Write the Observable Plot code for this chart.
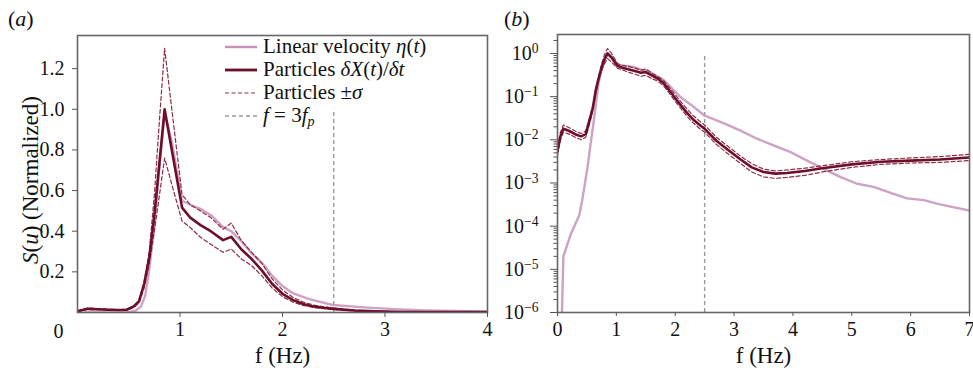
<!DOCTYPE html>
<html>
<head>
<meta charset="utf-8">
<script src="https://cdn.jsdelivr.net/npm/d3@7"></script>
<script src="https://cdn.jsdelivr.net/npm/@observablehq/plot@0.6"></script>
<style>
  html, body { margin: 0; padding: 0; background: #fff; font-family: 'Liberation Serif', serif; }
  #root { position: relative; width: 973px; height: 376px; overflow: hidden; font-family: 'Liberation Serif', serif; }
  .panel { position: absolute; top: 0; }
  .panel svg { overflow: visible; }
  .plab { position: absolute; top: 6px; font-size: 22px; line-height: 26px; color: #111; font-family: 'Liberation Serif', serif; }
  #legend { position: absolute; left: 222px; top: 35px; font-size: 21px; color: #111; font-family: 'Liberation Serif', serif; }
  #legend .row { height: 23px; line-height: 23px; display: flex; align-items: center; white-space: nowrap; }
  #legend svg { margin-right: 6px; }
  #legend sub { font-size: 14px; vertical-align: -4px; line-height: 0; }
</style>
</head>
<body>
<div id="root">
  <div class="plab" style="left:8px">(<i>a</i>)</div>
  <div class="plab" style="left:504px">(<i>b</i>)</div>
  <div id="left" class="panel" style="left:0px"></div>
  <div id="right" class="panel" style="left:490px"></div>
  <div id="legend"></div>
</div>
<script>
// ---------- data ----------
// particle spectra (mean, +sigma, -sigma), normalized
const fParticles = [0, 0.05, 0.1, 0.2, 0.3, 0.4, 0.48, 0.55, 0.6, 0.65, 0.7, 0.75, 0.8, 0.85, 0.92, 1.02, 1.1, 1.2, 1.3, 1.42, 1.5, 1.6, 1.7, 1.8, 1.9, 2.0, 2.1, 2.2, 2.3, 2.4, 2.5, 2.7, 2.9, 3.1, 3.3, 3.5, 3.7, 3.9, 4.2, 4.5, 5.0, 5.5, 6.0, 6.5, 7.0];
const particlesMean = [0.0056, 0.012, 0.018, 0.016, 0.0135, 0.012, 0.0135, 0.03, 0.055, 0.14, 0.27, 0.48, 0.74, 1.0, 0.80, 0.516, 0.467, 0.43, 0.40, 0.356, 0.372, 0.31, 0.263, 0.206, 0.14, 0.092, 0.062, 0.042, 0.03, 0.023, 0.018, 0.0095, 0.0058, 0.0036, 0.0023, 0.0018, 0.00165, 0.0017, 0.0019, 0.0022, 0.0027, 0.0031, 0.0033, 0.0035, 0.0039];
const particlesHi = [0.007, 0.015, 0.022, 0.019, 0.016, 0.014, 0.016, 0.035, 0.06, 0.15, 0.30, 0.58, 0.95, 1.30, 1.0, 0.58, 0.53, 0.50, 0.467, 0.41, 0.44, 0.353, 0.296, 0.24, 0.165, 0.111, 0.075, 0.052, 0.037, 0.028, 0.022, 0.0115, 0.007, 0.0043, 0.0028, 0.0021, 0.0019, 0.002, 0.0022, 0.0025, 0.0031, 0.0035, 0.0038, 0.0041, 0.0046];
const particlesLo = [0.0045, 0.010, 0.015, 0.0135, 0.0115, 0.010, 0.0115, 0.025, 0.048, 0.12, 0.24, 0.40, 0.58, 0.76, 0.63, 0.45, 0.418, 0.37, 0.336, 0.296, 0.312, 0.263, 0.23, 0.18, 0.12, 0.078, 0.052, 0.035, 0.025, 0.019, 0.015, 0.0078, 0.0047, 0.0029, 0.0018, 0.00138, 0.00128, 0.00135, 0.0015, 0.0018, 0.0023, 0.0027, 0.0029, 0.003, 0.0033];
// linear velocity spectrum
const fLinear = [0.07, 0.1, 0.23, 0.37, 0.42, 0.51, 0.57, 0.62, 0.66, 0.7, 0.75, 0.8, 0.85, 0.92, 1.02, 1.1, 1.2, 1.3, 1.42, 1.5, 1.6, 1.7, 1.8, 1.9, 2.0, 2.1, 2.26, 2.49, 2.83, 3.1, 3.39, 3.67, 3.96, 4.24, 4.53, 4.81, 5.09, 5.37, 5.66, 5.94, 6.22, 6.5, 7.0];
const linearVelocity = [5e-7, 2e-5, 6.8e-5, 1.8e-4, 4e-4, 2.3e-3, 9.7e-3, 0.03, 0.082, 0.21, 0.43, 0.72, 0.98, 0.84, 0.55, 0.53, 0.51, 0.48, 0.42, 0.40, 0.35, 0.29, 0.245, 0.18, 0.13, 0.095, 0.066, 0.037, 0.024, 0.0165, 0.0106, 0.0074, 0.0052, 0.0033, 0.0021, 0.00137, 0.00096, 0.00081, 0.00059, 0.00044, 0.0004, 0.00032, 0.00023];
const fCut = 2.5; // f = 3 f_p
// ticks
const xTicksLeft = [1, 2, 3, 4];
const yTicksLeft = [0.2, 0.4, 0.6, 0.8, 1.0, 1.2];
const xTicksRight = [0, 1, 2, 3, 4, 5, 6, 7];
const yTicksRight = [1e-6, 1e-5, 1e-4, 1e-3, 1e-2, 1e-1, 1];
const legendLabels = [
  "Linear velocity <i>η</i>(<i>t</i>)",
  "Particles <i>δX</i>(<i>t</i>)/<i>δt</i>",
  "Particles ±<i>σ</i>",
  "<i>f</i> = 3<i>f<sub>p</sub></i>"
];

// ---------- styles ----------
const PINK = "#c690bb", MAROON = "#6d0f2b", DASH = "#8e2c42", GRAY = "#9a9a9a", AX = "#555";
const FONT = "'Liberation Serif', serif";

const particles = fParticles.map((f, i) => ({f, mean: particlesMean[i], hi: particlesHi[i], lo: particlesLo[i]}));
const linear = fLinear.map((f, i) => ({f, v: linearVelocity[i]}));

function seriesMarks(y1Rule) {
  return [
    Plot.ruleX([fCut], {y1: y1Rule, y2: 1, stroke: GRAY, strokeWidth: 1.4, strokeDasharray: "4,3"}),
    Plot.line(linear, {x: "f", y: "v", stroke: PINK, strokeWidth: 2.4, strokeOpacity: 0.85, clip: true}),
    Plot.line(particles, {x: "f", y: "hi", stroke: DASH, strokeWidth: 1.2, strokeDasharray: "4,2.5", clip: true}),
    Plot.line(particles, {x: "f", y: "lo", stroke: DASH, strokeWidth: 1.2, strokeDasharray: "4,2.5", clip: true}),
    Plot.line(particles, {x: "f", y: "mean", stroke: MAROON, strokeWidth: 2.6, clip: true})
  ];
}

const leftPlot = Plot.plot({
  width: 490, height: 376,
  marginLeft: 77, marginRight: 3, marginTop: 35, marginBottom: 64,
  style: {fontFamily: FONT, fontSize: "20px", background: "transparent", color: "#111", overflow: "visible"},
  x: {domain: [0, 4]},
  y: {domain: [0, 1.363]},
  marks: [
    ...seriesMarks(0),
    Plot.frame({stroke: "#666", strokeWidth: 1.6}),
    Plot.axisX({ticks: xTicksLeft, tickSize: 5, tickPadding: 4, stroke: AX, label: null, tickFormat: d => String(d)}),
    Plot.axisY({ticks: yTicksLeft, tickSize: 5, tickPadding: 8, stroke: AX, label: null, tickFormat: d => d.toFixed(1)}),
    Plot.text([0], {x: 0, y: 0, text: d => String(d), dx: -19, dy: 19}),
    Plot.text(["f (Hz)"], {frameAnchor: "bottom", dy: 43, lineAnchor: "middle", textAnchor: "middle", text: d => d, fontSize: 23}),
    Plot.text(["S(u) (Normalized)"], {frameAnchor: "left", dx: -47, dy: 6, rotate: -90, lineAnchor: "middle", textAnchor: "middle", text: d => d, fontSize: 23})
  ]
});

const minorTicks = [];
for (let e = -6; e <= 0; e++) for (let k = 2; k <= 9; k++) { const v = k * Math.pow(10, e); if (v < 2.75) minorTicks.push(v); }

const rightPlot = Plot.plot({
  width: 483, height: 376,
  marginLeft: 67, marginRight: 4, marginTop: 34, marginBottom: 64,
  style: {fontFamily: FONT, fontSize: "20px", background: "transparent", color: "#111", overflow: "visible"},
  x: {domain: [0, 7]},
  y: {type: "log", domain: [1e-6, 2.75]},
  marks: [
    ...seriesMarks(1e-6),
    Plot.frame({stroke: "#666", strokeWidth: 1.6}),
    Plot.axisX({ticks: xTicksRight, tickSize: 4, tickPadding: 5, stroke: AX, label: null, tickFormat: d => String(d)}),
    Plot.axisY({ticks: minorTicks, tickSize: 3.5, stroke: AX, label: null, tickFormat: () => ""}),
    Plot.axisY({ticks: yTicksRight, tickSize: 7, tickPadding: 12, stroke: AX, label: null, tickFormat: d => "10^" + Math.round(Math.log10(d))}),
    Plot.text(["f (Hz)"], {frameAnchor: "bottom", dy: 43, lineAnchor: "middle", textAnchor: "middle", text: d => d, fontSize: 23})
  ]
});

function fixTexts(svg) {
  svg.style.fontFamily = FONT;
  svg.setAttribute("font-family", FONT);
  svg.querySelectorAll("text").forEach(t => {
    t.style.fontFamily = FONT;
    const s = t.textContent;
    const m = s.match(/^10\^(-?\d+)$/);
    if (m) {
      const exp = m[1].replace("-", "\u2212");
      t.innerHTML = `10<tspan dy="-0.5em" font-size="0.68em">${exp}</tspan>`;
    } else if (s === "S(u) (Normalized)") {
      t.innerHTML = `<tspan font-style="italic">S</tspan>(<tspan font-style="italic">u</tspan>) (Normalized)`;
    }
  });
}
fixTexts(leftPlot);
fixTexts(rightPlot);
document.getElementById("left").appendChild(leftPlot);
document.getElementById("right").appendChild(rightPlot);

// ---------- legend ----------
const legendStyles = [
  {stroke: PINK, width: 2.4, dash: null},
  {stroke: MAROON, width: 2.8, dash: null},
  {stroke: DASH, width: 1.2, dash: "4,2.5"},
  {stroke: GRAY, width: 1.4, dash: "4,3"}
];
const leg = d3.select("#legend");
legendLabels.forEach((lab, i) => {
  const row = leg.append("div").attr("class", "row");
  const sw = row.append("svg").attr("width", 35).attr("height", 10);
  const st = legendStyles[i];
  sw.append("line").attr("x1", 3).attr("x2", 35).attr("y1", 5).attr("y2", 5)
    .attr("stroke", st.stroke).attr("stroke-width", st.width)
    .attr("stroke-dasharray", st.dash);
  row.append("span").html(lab);
});
</script>
</body>
</html>
